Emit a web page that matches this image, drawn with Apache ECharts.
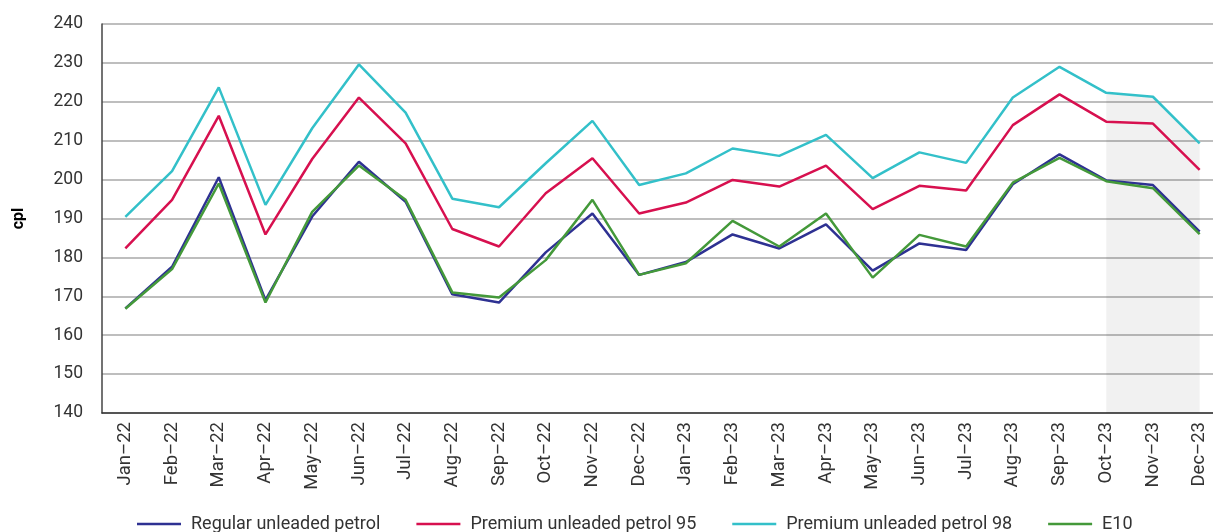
<!DOCTYPE html>
<html>
<head>
<meta charset="utf-8">
<script src="https://cdn.jsdelivr.net/npm/echarts@6/dist/echarts.min.js"></script>
<style>
  html, body { margin: 0; padding: 0; background: #fff; }
  #main { width: 1213px; height: 532px; }
</style>
</head>
<body>
<div id="main"></div>
<script>
// months
const months = ['Jan–22', 'Feb–22', 'Mar–22', 'Apr–22', 'May–22', 'Jun–22', 'Jul–22', 'Aug–22', 'Sep–22', 'Oct–22', 'Nov–22', 'Dec–22',
  'Jan–23', 'Feb–23', 'Mar–23', 'Apr–23', 'May–23', 'Jun–23', 'Jul–23', 'Aug–23', 'Sep–23', 'Oct–23', 'Nov–23', 'Dec–23'];

const regular = [166.9, 177.6, 200.6, 169.0, 190.5, 204.6, 194.3, 170.5, 168.4, 181.3, 191.3, 175.5,
  178.8, 185.9, 182.3, 188.5, 176.6, 183.6, 181.9, 198.8, 206.5, 199.8, 198.6, 186.6];
const premium95 = [182.3, 194.8, 216.4, 185.9, 205.3, 221.1, 209.3, 187.3, 182.8, 196.5, 205.5, 191.3,
  194.1, 199.9, 198.2, 203.6, 192.4, 198.4, 197.2, 214.0, 221.9, 214.9, 214.4, 202.5];
const premium98 = [190.4, 202.2, 223.7, 193.5, 213.2, 229.6, 217.2, 195.1, 192.9, 204.2, 215.1, 198.6,
  201.6, 208.0, 206.1, 211.5, 200.4, 207.0, 204.3, 221.1, 229.0, 222.3, 221.3, 209.3];
const e10 = [166.8, 177.0, 199.0, 168.4, 191.7, 203.6, 194.8, 171.0, 169.7, 179.3, 194.8, 175.5,
  178.5, 189.4, 182.8, 191.3, 174.8, 185.8, 182.8, 199.2, 205.6, 199.6, 197.8, 186.0];

// shaded period (Oct-23 to Dec-23)
const shadeStart = 21;
const shade = premium98.map((v, i) => i >= shadeStart ? v : null);

const seriesNames = ['Regular unleaded petrol', 'Premium unleaded petrol 95', 'Premium unleaded petrol 98', 'E10'];
const colors = ['#2E3192', '#D7104F', '#33C0C9', '#44993A'];
const values = [regular, premium95, premium98, e10];

var chart = echarts.init(document.getElementById('main'));

const lineSeries = seriesNames.map((name, i) => ({
  name: name,
  type: 'line',
  data: values[i],
  showSymbol: false,
  symbol: 'none',
  color: colors[i],
  lineStyle: { width: 2.5, color: colors[i] },
  z: 3
}));

chart.setOption({
  animation: false,
  textStyle: { fontFamily: 'Roboto' },
  grid: { left: 102, top: 24, width: 1121, height: 389, outerBoundsMode: 'none', containLabel: false },
  legend: {
    data: seriesNames,
    left: 132,
    top: 510,
    icon: 'rect',
    itemWidth: 44,
    itemHeight: 2.5,
    itemGap: 36,
    textStyle: { fontSize: 18, color: '#333', fontFamily: 'Roboto', padding: [0, 0, 0, 5] }
  },
  xAxis: {
    type: 'category',
    data: months,
    boundaryGap: true,
    axisLine: { lineStyle: { color: '#333', width: 1.5 } },
    axisTick: { show: false },
    axisLabel: { rotate: 90, fontSize: 18.5, color: '#333', margin: 9, interval: 0 }
  },
  yAxis: {
    type: 'value',
    min: 140,
    max: 240,
    interval: 10,
    name: 'cpl',
    nameLocation: 'middle',
    nameRotate: 90,
    nameGap: 75,
    nameTextStyle: { fontSize: 16, fontWeight: 'bold', color: '#000' },
    axisLine: { show: true, lineStyle: { color: '#444', width: 1.5 } },
    axisTick: { show: false },
    axisLabel: { fontSize: 17.5, color: '#333', margin: 19 },
    splitLine: { lineStyle: { color: '#a8a8a8', width: 1.5 } }
  },
  series: [{
    name: 'shade',
    type: 'line',
    data: shade,
    showSymbol: false,
    symbol: 'none',
    lineStyle: { width: 0 },
    areaStyle: { color: 'rgba(0,0,0,0.08)', origin: 'start' },
    silent: true,
    z: 1
  }].concat(lineSeries)
});
</script>
</body>
</html>
